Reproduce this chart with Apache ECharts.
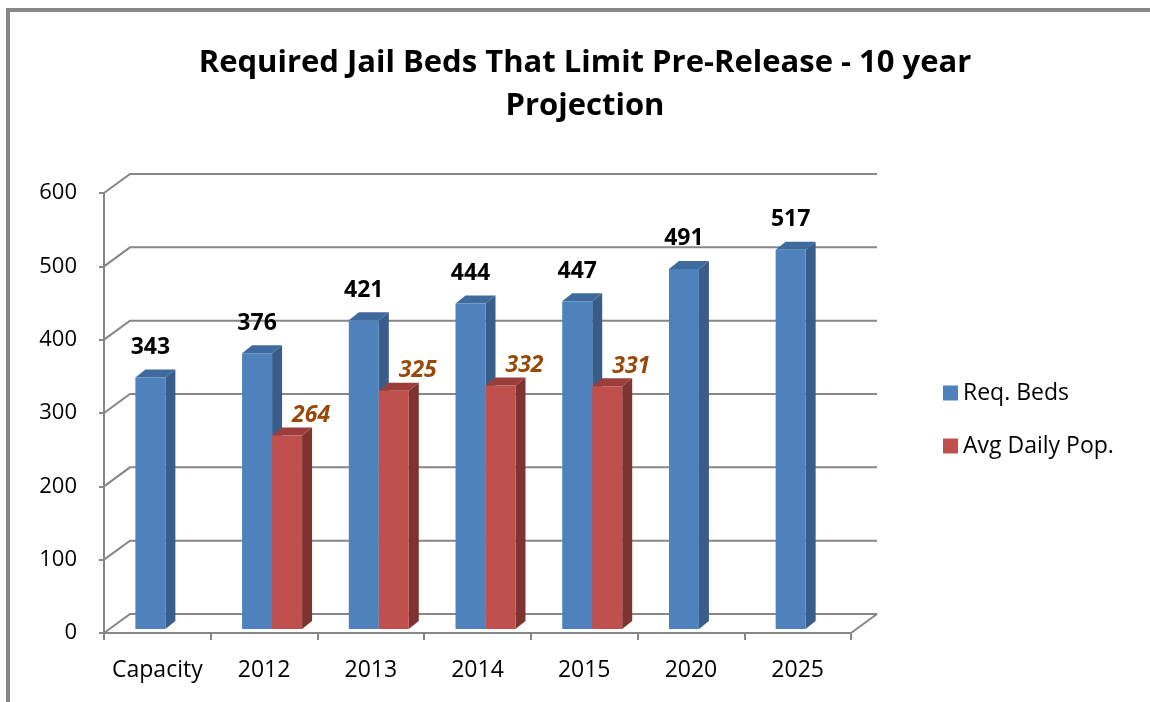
<!DOCTYPE html>
<html>
<head>
<meta charset="utf-8">
<title>Required Jail Beds That Limit Pre-Release - 10 year Projection</title>
<script src="https://cdn.jsdelivr.net/npm/echarts@6/dist/echarts.min.js"></script>
<style>
  html, body { margin: 0; padding: 0; background: #ffffff; }
  #chart { width: 1150px; height: 702px; }
</style>
</head>
<body>
<div id="chart"></div>
<script>
// Chart data
const categories = ['Capacity', '2012', '2013', '2014', '2015', '2020', '2025'];
const reqBeds = [343, 376, 421, 444, 447, 491, 517];
const avgDailyPop = [null, 264, 325, 332, 331, null, null];
const yTicks = [0, 100, 200, 300, 400, 500, 600];
const seriesNames = ['Req. Beds', 'Avg Daily Pop.'];

const FONT = '"Open Sans", Lato, sans-serif';
const GRID_GRAY = '#878787';

// 3-D look: depth of the plot box and of each column
const WALL_DX = 26, WALL_DY = -19;   // back wall offset from the front plane
const BAR_LIFT = 4;                  // columns stand slightly behind the front edge
const BAR_DX = 10, BAR_DY = -8;      // column depth
const BAR_FRAC = 0.281;              // column width as fraction of category band
const CLUSTER_SHIFT = 0.075;         // cluster centre offset within the band

const palettes = [
  { front: '#4F81BD', side: '#385D8A', top: '#3F6A9E', label: '#000000', italic: false },
  { front: '#C0504D', side: '#7F3331', top: '#9B3E3B', label: '#984807', italic: true }
];

function barRenderer(seriesIdx) {
  return function (params, api) {
    const ci = api.value(0);
    const v = api.value(1);
    if (v == null || isNaN(v)) return null;
    const band = api.size([1, 0])[0];
    const base = api.coord([ci, 0]);
    const topPt = api.coord([ci, v]);
    const w = band * BAR_FRAC;
    const cx = base[0] + band * CLUSTER_SHIFT;
    const x0 = seriesIdx === 0 ? cx - w : cx;
    const x1 = x0 + w;
    const yb = base[1] - BAR_LIFT;
    const yt = topPt[1] - BAR_LIFT;
    const c = palettes[seriesIdx];
    const children = [
      { type: 'polygon', shape: { points: [[x1, yt], [x1 + BAR_DX, yt + BAR_DY], [x1 + BAR_DX, yb + BAR_DY], [x1, yb]] },
        style: { fill: c.side } },
      { type: 'polygon', shape: { points: [[x0, yt], [x0 + BAR_DX, yt + BAR_DY], [x1 + BAR_DX, yt + BAR_DY], [x1, yt]] },
        style: { fill: c.top } },
      { type: 'rect', shape: { x: x0, y: yt, width: w, height: yb - yt },
        style: { fill: c.front } }
    ];
    const lx = seriesIdx === 0 ? (x0 + x1) / 2 : (x0 + x1) / 2 + 24;
    const ly = seriesIdx === 0 ? yt - 30 : yt - 20;
    children.push({
      type: 'text', z2: 10,
      style: {
        x: lx, y: ly, text: String(v), fill: c.label,
        font: (c.italic ? 'italic ' : '') + 'bold 23px ' + FONT,
        align: 'center', verticalAlign: 'middle'
      }
    });
    return { type: 'group', children: children };
  };
}

function wallRenderer(params, api) {
  const v = api.value(0);
  const cs = params.coordSys;
  const p = api.coord([0, v]);
  const y = p[1];
  const xl = cs.x, xr = cs.x + cs.width;
  const children = [
    { type: 'polyline', shape: { points: [[xl, y], [xl + WALL_DX, y + WALL_DY], [xr + WALL_DX, y + WALL_DY]] },
      style: { stroke: GRID_GRAY, lineWidth: 2, fill: null } }
  ];
  if (v === yTicks[0]) {
    // right edge of the floor
    children.push({ type: 'line', shape: { x1: xr, y1: y, x2: xr + WALL_DX, y2: y + WALL_DY },
      style: { stroke: GRID_GRAY, lineWidth: 2 } });
  }
  return { type: 'group', children: children };
}

const chart = echarts.init(document.getElementById('chart'), null, { renderer: 'canvas' });

chart.setOption({
  animation: false,
  backgroundColor: '#ffffff',
  title: {
    text: 'Required Jail Beds That Limit Pre-Release - 10 year\nProjection',
    left: 580, top: 37, textAlign: 'center',
    textStyle: { fontFamily: FONT, fontWeight: 'bold', fontSize: 31, lineHeight: 43, color: '#000000' }
  },
  legend: {
    orient: 'vertical', left: 938, top: 376,
    itemWidth: 15, itemHeight: 15, itemGap: 29, itemTextGap: 7,
    icon: 'rect',
    data: seriesNames,
    textStyle: { fontFamily: FONT, fontSize: 23, lineHeight: 24, color: '#000000' },
    selectedMode: false
  },
  graphic: [
    { type: 'line', shape: { x1: 6, y1: 10, x2: 1150, y2: 10 }, style: { stroke: '#878787', lineWidth: 4 } },
    { type: 'line', shape: { x1: 8, y1: 8, x2: 8, y2: 702 }, style: { stroke: '#878787', lineWidth: 4 } }
  ],
  grid: { left: 104, right: 299, top: 193, bottom: 69, containLabel: false },
  xAxis: {
    type: 'category', data: categories,
    axisLine: { show: true, lineStyle: { color: GRID_GRAY, width: 2 } },
    axisTick: { show: true, length: 7, lineStyle: { color: GRID_GRAY, width: 2 } },
    axisLabel: { fontFamily: FONT, fontSize: 23, color: '#000000', margin: 26, interval: 0 },
    splitLine: { show: false }
  },
  yAxis: {
    type: 'value', min: 0, max: 600, interval: 100,
    axisLine: { show: true, lineStyle: { color: GRID_GRAY, width: 2 } },
    axisTick: { show: true, length: 5, lineStyle: { color: GRID_GRAY, width: 2 } },
    axisLabel: { fontFamily: FONT, fontSize: 22, color: '#000000', margin: 27 },
    splitLine: { show: false }
  },
  series: [
    {
      name: 'walls', type: 'custom', z: 1, silent: true,
      renderItem: wallRenderer,
      encode: { y: 0 },
      data: yTicks.map(function (t) { return [t]; })
    },
    {
      name: seriesNames[0], type: 'custom', z: 3,
      itemStyle: { color: palettes[0].front },
      renderItem: barRenderer(0),
      encode: { x: 0, y: 1 },
      data: reqBeds.map(function (v, i) { return [i, v]; })
    },
    {
      name: seriesNames[1], type: 'custom', z: 4,
      itemStyle: { color: palettes[1].front },
      renderItem: barRenderer(1),
      encode: { x: 0, y: 1 },
      data: avgDailyPop.map(function (v, i) { return [i, v == null ? '-' : v]; })
    }
  ]
});
</script>
</body>
</html>
